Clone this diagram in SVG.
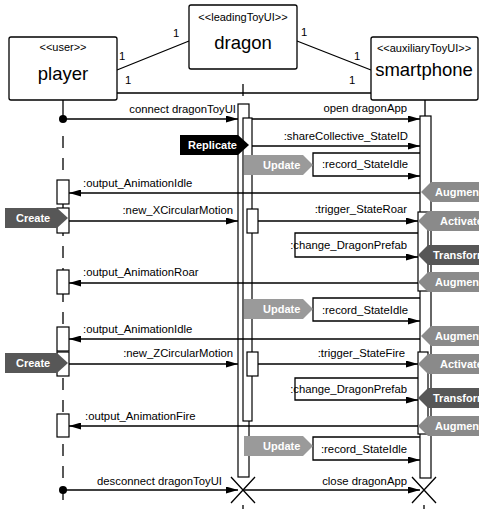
<svg xmlns="http://www.w3.org/2000/svg" width="479" height="509" viewBox="0 0 479 509">
<defs>
<style>
.box{fill:#fff;stroke:#000;stroke-width:1.3}
.bar{fill:#fff;stroke:#000;stroke-width:1.2}
.ln{fill:none;stroke:#000;stroke-width:1.3}
.life{fill:none;stroke:#000;stroke-width:1.3;stroke-dasharray:12,10}
.st{font-family:"Liberation Sans",Arial,sans-serif;font-size:11px;text-anchor:middle}
.nm{font-family:"Liberation Sans",Arial,sans-serif;font-size:18.5px;text-anchor:middle}
.lb{font-family:"Liberation Sans",Arial,sans-serif;font-size:11.3px;text-anchor:end}
.lbs{font-family:"Liberation Sans",Arial,sans-serif;font-size:11.3px}
.tg{font-family:"Liberation Sans",Arial,sans-serif;font-size:11px;font-weight:bold;fill:#fff}
.k{fill:#000}
.g1{fill:#9a9a9a}
.g2{fill:#8a8a8a}
.g3{fill:#575757}
</style>
<marker id="ah" viewBox="0 0 12 7" refX="12" refY="3.5" markerWidth="12" markerHeight="7" markerUnits="userSpaceOnUse" orient="auto"><path d="M0,0L12,3.5L0,7z" fill="#000"/></marker>
</defs>

<g id="associations">
<path class="ln" d="M117,70L189,41M117,93L371,93M297,41L371,70"/>
<text class="lbs" x="119" y="60">1</text>
<text class="lbs" x="173" y="37">1</text>
<text class="lbs" x="125" y="84">1</text>
<text class="lbs" x="349" y="84">1</text>
<text class="lbs" x="301" y="36">1</text>
<text class="lbs" x="354" y="60">1</text>
</g>

<g id="player">
<rect class="box" x="9" y="37" width="108" height="63" rx="2"/>
<text class="st" x="63" y="51">&lt;&lt;user&gt;&gt;</text>
<text class="nm" x="63" y="80">player</text>
</g>
<g id="dragon">
<rect class="box" x="189" y="5" width="108" height="64" rx="2"/>
<text class="st" x="243" y="21">&lt;&lt;leadingToyUI&gt;&gt;</text>
<text class="nm" x="243" y="49">dragon</text>
</g>
<g id="smartphone">
<rect class="box" x="371" y="37" width="107" height="63" rx="2"/>
<text class="st" x="424" y="52">&lt;&lt;auxiliaryToyUI&gt;&gt;</text>
<text class="nm" x="424" y="76">smartphone</text>
</g>

<g id="lifelines">
<path class="ln" d="M63,100V118"/>
<path class="life" d="M63,136V509"/>
<path class="life" d="M243,84V104"/>
<path class="ln" d="M425,100V116"/>
<path class="life" d="M243,505V509"/>
<path class="life" d="M424,505V509"/>
</g>

<g id="activations">
<rect class="bar" x="238" y="104" width="11" height="373"/>
<rect class="bar" x="243" y="118" width="9" height="303"/>
<rect class="bar" x="247" y="209" width="11" height="24"/>
<rect class="bar" x="247" y="352" width="11" height="24"/>
<rect class="bar" x="420" y="116" width="11" height="362"/>
<rect class="bar" x="418" y="212" width="10" height="79"/>
<rect class="bar" x="418" y="352" width="10" height="82"/>
<rect class="bar" x="57" y="180" width="12" height="24"/>
<rect class="bar" x="57" y="208" width="12" height="25"/>
<rect class="bar" x="57" y="270" width="12" height="24"/>
<rect class="bar" x="57" y="327" width="12" height="24"/>
<rect class="bar" x="57" y="352" width="12" height="24"/>
<rect class="bar" x="57" y="414" width="12" height="23"/>
</g>

<g id="connectors">
<circle cx="63" cy="119" r="4"/>
<path class="ln" d="M63,119H238" marker-end="url(#ah)"/>
<path class="ln" d="M252,119H420" marker-end="url(#ah)"/>
<path class="ln" d="M252,146H420" marker-end="url(#ah)"/>
<path class="ln" d="M420,153H313V176H420" marker-end="url(#ah)"/>
<path class="ln" d="M420,193H69" marker-end="url(#ah)"/>
<path class="ln" d="M69,221H238" marker-end="url(#ah)"/>
<path class="ln" d="M258,221H418" marker-end="url(#ah)"/>
<path class="ln" d="M418,233H295V257H418" marker-end="url(#ah)"/>
<path class="ln" d="M418,283H69" marker-end="url(#ah)"/>
<path class="ln" d="M420,298H313V321H420" marker-end="url(#ah)"/>
<path class="ln" d="M420,339H69" marker-end="url(#ah)"/>
<path class="ln" d="M69,364H238" marker-end="url(#ah)"/>
<path class="ln" d="M258,364H418" marker-end="url(#ah)"/>
<path class="ln" d="M418,378H295V400H418" marker-end="url(#ah)"/>
<path class="ln" d="M418,426H69" marker-end="url(#ah)"/>
<path class="ln" d="M420,437H313V460H420" marker-end="url(#ah)"/>
<circle cx="63" cy="490" r="4"/>
<path class="ln" d="M63,490H238" marker-end="url(#ah)"/>
<path class="ln" d="M243,490H420" marker-end="url(#ah)"/>
<path class="ln" d="M231,477L255,503M255,477L231,503"/>
<path class="ln" d="M412,477L436,503M436,477L412,503"/>
</g>

<g id="labels">
<text class="lb" x="236" y="113">connect dragonToyUI</text>
<text class="lb" x="407" y="112">open dragonApp</text>
<text class="lb" x="408" y="140">:shareCollective_StateID</text>
<text class="lb" x="408" y="168">:record_StateIdle</text>
<text class="lbs" x="83" y="187">:output_AnimationIdle</text>
<text class="lb" x="233" y="214">:new_XCircularMotion</text>
<text class="lb" x="407" y="213">:trigger_StateRoar</text>
<text class="lb" x="407" y="249">:change_DragonPrefab</text>
<text class="lbs" x="83" y="276">:output_AnimationRoar</text>
<text class="lb" x="408" y="314">:record_StateIdle</text>
<text class="lbs" x="83" y="333">:output_AnimationIdle</text>
<text class="lb" x="233" y="357">:new_ZCircularMotion</text>
<text class="lb" x="405" y="357">:trigger_StateFire</text>
<text class="lb" x="407" y="393">:change_DragonPrefab</text>
<text class="lbs" x="85" y="420">:output_AnimationFire</text>
<text class="lb" x="407" y="453">:record_StateIdle</text>
<text class="lb" x="222" y="485">desconnect dragonToyUI</text>
<text class="lb" x="407" y="485">close dragonApp</text>
</g>

<g id="tag-replicate"><path class="k" d="M180,135H238L249,145L238,155H180Z"/><text class="tg" x="188" y="149">Replicate</text></g>
<g id="tag-update1"><path class="g1" d="M244,155H303L313,165L303,175H244Z"/><text class="tg" x="263" y="169">Update</text></g>
<g id="tag-augment1"><path class="g2" d="M421,192L431,182H490V202H431Z"/><text class="tg" x="435" y="196">Augment</text></g>
<g id="tag-create1"><path class="g3" d="M5,208H57L68,218L57,228H5Z"/><text class="tg" x="16" y="222">Create</text></g>
<g id="tag-activate1"><path class="g2" d="M418,221L428,211H490V231H428Z"/><text class="tg" x="440" y="225">Activate</text></g>
<g id="tag-transform1"><path class="g3" d="M418,255L428,245H490V265H428Z"/><text class="tg" x="433" y="259">Transform</text></g>
<g id="tag-augment2"><path class="g2" d="M418,282L428,272H490V292H428Z"/><text class="tg" x="435" y="286">Augment</text></g>
<g id="tag-update2"><path class="g1" d="M244,299H303L313,309L303,319H244Z"/><text class="tg" x="263" y="313">Update</text></g>
<g id="tag-augment3"><path class="g2" d="M421,336L431,326H490V346H431Z"/><text class="tg" x="435" y="340">Augment</text></g>
<g id="tag-create2"><path class="g3" d="M5,353H57L68,363L57,373H5Z"/><text class="tg" x="16" y="367">Create</text></g>
<g id="tag-activate2"><path class="g2" d="M418,364L428,354H490V374H428Z"/><text class="tg" x="440" y="368">Activate</text></g>
<g id="tag-transform2"><path class="g3" d="M418,398L428,388H490V408H428Z"/><text class="tg" x="433" y="402">Transform</text></g>
<g id="tag-augment4"><path class="g2" d="M418,426L428,416H490V436H428Z"/><text class="tg" x="435" y="430">Augment</text></g>
<g id="tag-update3"><path class="g1" d="M244,436H303L313,446L303,456H244Z"/><text class="tg" x="263" y="450">Update</text></g>
</svg>
